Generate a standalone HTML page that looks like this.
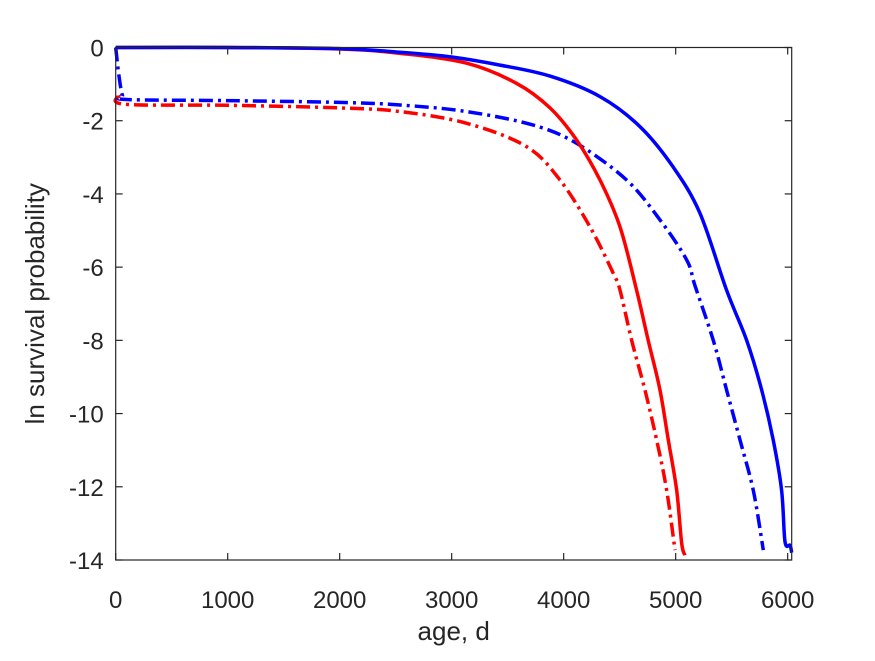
<!DOCTYPE html>
<html><head><meta charset="utf-8"><style>
body{margin:0;background:#fff}
svg text{font-family:"Liberation Sans",sans-serif;fill:#262626}
</style></head><body>
<svg id="chart" width="875" height="656" xmlns="http://www.w3.org/2000/svg">
<rect width="875" height="656" fill="#fff"/>
<g id="plot"></g>
<g id="axes"></g>
</svg>
<script>
const xTicks=[0,1000,2000,3000,4000,5000,6000];
const yTicks=[0,-2,-4,-6,-8,-10,-12,-14];
const redSolidX=[0,1000,2000,2539,3134,3580,3878,4116,4324,4503,4651,4755,4860,4934,5009,5054,5083];
const redSolidY=[0,0,-0.04,-0.16,-0.43,-0.98,-1.65,-2.53,-3.62,-4.9,-6.63,-8.0,-9.36,-10.72,-12.1,-13.55,-13.87];
const blueSolidX=[0,1000,2000,2539,3000,3431,3878,4324,4681,4976,5217,5455,5634,5768,5871,5946,5976,6021,6036];
const blueSolidY=[0,0,-0.03,-0.13,-0.26,-0.48,-0.78,-1.34,-2.16,-3.26,-4.53,-6.63,-8.0,-9.36,-10.72,-12.1,-13.5,-13.6,-13.8];
const blueDashX=[0,30,60,100,1000,2000,2539,3134,3729,4116,4562,4860,5098,5172,5336,5455,5574,5693,5782];
const blueDashY=[0,-0.8,-1.3,-1.42,-1.45,-1.5,-1.57,-1.75,-2.12,-2.62,-3.62,-4.71,-5.8,-6.5,-8.0,-9.36,-10.72,-12.1,-13.73];
const redDashX=[30,80,1000,2000,2539,3134,3670,3967,4235,4443,4503,4607,4726,4830,4920,4994];
const redDashY=[-1.3,-1.55,-1.58,-1.65,-1.75,-2.07,-2.71,-3.62,-4.9,-6.17,-6.63,-8.0,-9.36,-10.72,-12.1,-13.73];
const X0=115.7,X1=791.7,XMAX=6036,Y0=47.5,Y1=560;
const sx=v=>X0+(v/XMAX)*(X1-X0);
const sy=v=>Y0+(v/-14)*(Y1-Y0);
const NS="http://www.w3.org/2000/svg";
const plot=document.getElementById('plot'),axes=document.getElementById('axes');
function smoothPath(xs,ys){
  const P=xs.map((x,i)=>[sx(x),sy(ys[i])]);
  let d='M'+P[0][0].toFixed(1)+','+P[0][1].toFixed(1);
  for(let i=0;i<P.length-1;i++){
    const p0=P[Math.max(0,i-1)],p1=P[i],p2=P[i+1],p3=P[Math.min(P.length-1,i+2)];
    const c1=[p1[0]+(p2[0]-p0[0])/6,p1[1]+(p2[1]-p0[1])/6];
    const c2=[p2[0]-(p3[0]-p1[0])/6,p2[1]-(p3[1]-p1[1])/6];
    d+='C'+c1[0].toFixed(1)+','+c1[1].toFixed(1)+' '+c2[0].toFixed(1)+','+c2[1].toFixed(1)+' '+p2[0].toFixed(1)+','+p2[1].toFixed(1);
  }
  return d;
}
function line(xs,ys,color,dash,name){
  const p=document.createElementNS(NS,'path');
  p.setAttribute('d',smoothPath(xs,ys));
  p.setAttribute('fill','none');p.setAttribute('stroke',color);p.setAttribute('stroke-width','3.5');
  if(dash)p.setAttribute('stroke-dasharray',dash);
  
  
  plot.appendChild(p);
}
line(redDashX,redDashY,'#f00','14,5,3,5','red-dashdot-line');
line(blueDashX,blueDashY,'#00f','14,5,3,5','blue-dashdot-line');
line(redSolidX,redSolidY,'#f00','','red-solid-line');
line(blueSolidX,blueSolidY,'#00f','','blue-solid-line');
const box=document.createElementNS(NS,'rect');
box.setAttribute('x',X0);box.setAttribute('y',Y0);box.setAttribute('width',X1-X0);box.setAttribute('height',Y1-Y0);
box.setAttribute('fill','none');box.setAttribute('stroke','#262626');box.setAttribute('stroke-width','1.2');


axes.appendChild(box);
function tick(x1,y1,x2,y2){const l=document.createElementNS(NS,'line');l.setAttribute('x1',x1);l.setAttribute('y1',y1);l.setAttribute('x2',x2);l.setAttribute('y2',y2);l.setAttribute('stroke','#262626');l.setAttribute('stroke-width','1.2');


axes.appendChild(l);}
function text(x,y,s,anchor,size,name){const t=document.createElementNS(NS,'text');t.setAttribute('x',x);t.setAttribute('y',y);t.setAttribute('text-anchor',anchor);t.setAttribute('font-size',size);t.textContent=s;


axes.appendChild(t);return t;}
xTicks.forEach(v=>{const x=sx(v);tick(x,Y1,x,Y1-7);tick(x,Y0,x,Y0+7);text(x,Y1+48,String(v),'middle',24,'x-tick-label');});
yTicks.forEach(v=>{const y=sy(v);tick(X0,y,X0+7,y);tick(X1,y,X1-7,y);text(X0-12,y+9,String(v),'end',24,'y-tick-label');});
text((X0+X1)/2,640,'age, d','middle',26,'x-axis-title');
const yt=text(0,0,'ln survival probability','middle',26,'y-axis-title');
yt.setAttribute('transform','translate(44,'+((Y0+Y1)/2)+') rotate(-90)');
</script>
</body></html>
